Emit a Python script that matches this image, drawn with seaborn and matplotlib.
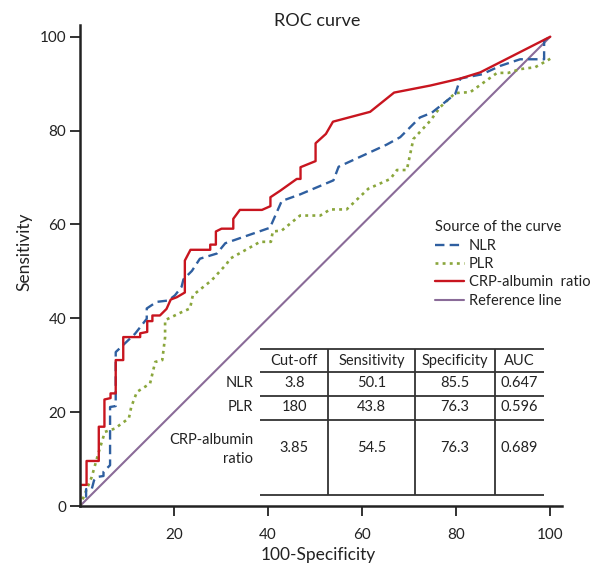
import matplotlib
matplotlib.use("Agg")
import matplotlib.pyplot as plt
import seaborn as sns
import pandas as pd

# --- data ---
crp_x = [0, 0, 1.4, 1.4, 4.0, 4.0, 5.2, 5.2, 6.5, 6.5, 7.6, 7.6, 9.2, 9.2, 12.8, 12.8, 14.3, 14.3,
         15.4, 15.4, 17.0, 18.4, 19.3, 20.6, 22.3, 22.3, 23.5, 27.7, 27.7, 28.9, 28.9, 30.1, 32.6,
         32.6, 34.0, 38.7, 40.5, 40.5, 42.6, 44.7, 46.1, 46.9, 46.9, 50.1, 50.1, 52.3, 53.8, 61.7,
         66.8, 74.5, 80.9, 85.1, 100]
crp_y = [0, 4.5, 4.5, 9.6, 9.6, 16.9, 16.9, 22.7, 23.0, 24.0, 24.0, 31.1, 31.1, 36.0, 36.0, 36.8,
         37.1, 39.4, 39.4, 40.6, 40.6, 42.0, 44.0, 44.5, 45.5, 52.3, 54.6, 54.6, 55.7, 55.7, 58.5,
         59.1, 59.1, 61.2, 63.1, 63.1, 63.9, 65.8, 67.2, 68.7, 69.7, 69.7, 72.2, 73.5, 77.3, 79.3,
         81.9, 84.0, 88.1, 89.6, 91.1, 92.4, 100]

nlr_x = [0, 0, 1.3, 1.3, 2.5, 3.0, 3.7, 5.0, 5.0, 6.4, 6.4, 7.6, 7.6, 11.7, 14.2, 14.2, 16.3, 18.8,
         20.2, 21.6, 22.0, 23.8, 25.5, 29.1, 30.9, 40.4, 42.9, 46.8, 53.9, 55.0, 65.2, 68.1, 72.3,
         74.8, 79.8, 80.9, 85.5, 89.4, 93.6, 98.7, 98.7, 100]
nlr_y = [0, 2.0, 2.0, 3.6, 3.6, 5.5, 6.2, 6.4, 7.3, 8.7, 21.1, 21.3, 32.8, 36.7, 39.9, 42.1, 43.5,
         43.8, 44.9, 46.7, 48.3, 50.1, 52.7, 53.8, 56.0, 59.3, 65.0, 66.4, 69.4, 72.3, 77.0, 78.6,
         82.8, 83.8, 87.8, 91.1, 92.0, 93.8, 95.2, 95.2, 99.2, 100]

plr_x = [0, 1.0, 2.5, 3.9, 5.3, 7.4, 10.4, 10.9, 12.1, 14.9, 16.0, 17.5, 18.1, 18.1, 21.6, 23.4,
         24.0, 28.0, 31.2, 31.9, 38.3, 40.6, 41.0, 42.9, 46.8, 51.1, 53.2, 56.7, 61.3, 66.0, 67.4,
         69.5, 70.9, 74.5, 76.6, 79.8, 83.0, 88.7, 91.1, 93.6, 96.8, 99.3, 100]
plr_y = [0, 2.5, 6.2, 11.2, 15.8, 16.5, 18.7, 21.1, 24.3, 26.1, 30.7, 31.1, 36.0, 39.6, 41.3, 42.1,
         44.9, 48.1, 51.6, 52.7, 56.3, 56.3, 58.5, 58.7, 61.9, 61.9, 63.2, 63.2, 67.6, 69.7, 71.6,
         71.6, 78.2, 82.1, 85.0, 88.0, 88.2, 92.3, 92.3, 93.1, 93.5, 94.9, 95.3]

ref_x = [0, 100]
ref_y = [0, 100]

# table content
col_labels = ["Cut-off", "Sensitivity", "Specificity", "AUC"]
row_labels = ["NLR", "PLR", "CRP-albumin\nratio"]
cutoffs = ["3.8", "180", "3.85"]
sensitivity = ["50.1", "43.8", "54.5"]
specificity = ["85.5", "76.3", "76.3"]
auc = ["0.647", "0.596", "0.689"]

sns.set_theme(style="ticks")
plt.rcParams["font.family"] = ["Lato", "DejaVu Sans"]
plt.rcParams["text.color"] = "#222222"

fig = plt.figure(figsize=(5.92, 5.71), dpi=100)
ax = fig.add_axes([0.1351, 0.1138, 0.8142, 0.8424])

curves = [
    ("NLR", nlr_x, nlr_y, "#2f5fa0", (0, (4, 2.2)), 1.7),
    ("PLR", plr_x, plr_y, "#8aa63c", (0, (1.1, 1.6)), 1.9),
    ("CRP-albumin  ratio", crp_x, crp_y, "#c8151f", "-", 1.7),
    ("Reference line", ref_x, ref_y, "#8a6b98", "-", 1.5),
]
order = [3, 1, 0, 2]  # drawing order: reference first, red on top
handles = {}
for i in order:
    name, xs, ys, col, ls, lw = curves[i]
    df = pd.DataFrame({"x": xs, "y": ys})
    sns.lineplot(data=df, x="x", y="y", ax=ax, estimator=None, sort=False,
                 color=col, linestyle=ls, linewidth=lw, label=name)
    handles[name] = ax.get_lines()[-1]

ax.set_xlim(0, 102.5)
ax.set_ylim(0, 102.5)
ax.set_xticks([20, 40, 60, 80, 100])
ax.set_yticks([0, 20, 40, 60, 80, 100])
ax.set_xlabel("")
ax.set_ylabel("")
ax.tick_params(axis="both", labelsize=11, length=7, width=1.3, color="#222222",
               labelcolor="#222222")
ax.tick_params(axis="y", pad=3)
ax.tick_params(axis="x", pad=9)
for s in ["left", "bottom"]:
    ax.spines[s].set_linewidth(1.8)
    ax.spines[s].set_color("#222222")
sns.despine(ax=ax)

fig.text(317 / 592, 1 - 21 / 571, "ROC curve", ha="center", va="center", fontsize=13)
fig.text(318 / 592, 1 - 555 / 571, "100-Specificity", ha="center", va="center", fontsize=12.5)
fig.text(24 / 592, 1 - 252 / 571, "Sensitivity", ha="center", va="center",
         rotation=90, fontsize=12.5)

names = [c[0] for c in curves]
leg = ax.legend([handles[n] for n in names], names, title="Source of the curve",
                loc="upper left", bbox_to_anchor=(428 / 592, 1 - 213 / 571),
                bbox_transform=fig.transFigure, frameon=False, fontsize=10.5,
                title_fontsize=10.5, alignment="left", borderpad=0,
                handlelength=2.0, handletextpad=0.3, labelspacing=0.3)

# --- table drawn inside the axes (data coordinates) ---
tx0, tx1 = 38.3, 98.6
hlines_y = [33.5, 28.6, 23.5, 18.4, 2.3]
vlines_x = [52.8, 71.3, 88.3]
tcol = "#333333"
ax.hlines(hlines_y, tx0, tx1, color=tcol, linewidth=1.3)
ax.vlines(vlines_x, hlines_y[-1], hlines_y[0], color=tcol, linewidth=1.3)

col_centers = [(tx0 + vlines_x[0]) / 2, (vlines_x[0] + vlines_x[1]) / 2,
               (vlines_x[1] + vlines_x[2]) / 2, (vlines_x[2] + tx1) / 2]
header_y = 30.9
row_y = [26.2, 21.1, 12.1]
fs = 10.5
for cx, lab in zip(col_centers, col_labels):
    ax.text(cx, header_y, lab, ha="center", va="center", fontsize=fs)
for j, ry in enumerate(row_y):
    ax.text(36.8, ry, row_labels[j], ha="right", va="center", fontsize=fs,
            linespacing=1.45)
    for cx, col in zip(col_centers, [cutoffs, sensitivity, specificity, auc]):
        ax.text(cx, ry + (0.2 if j == 2 else 0), col[j], ha="center", va="center", fontsize=fs)

fig.savefig("out.png", dpi=100)
